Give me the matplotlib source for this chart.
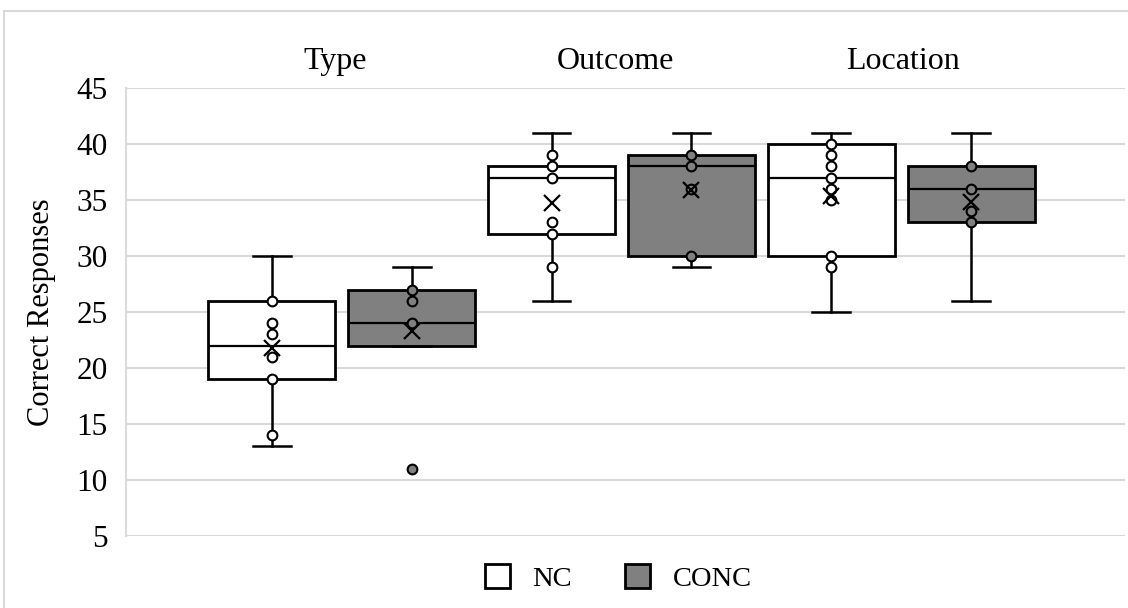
import matplotlib
matplotlib.use("Agg")
from matplotlib import pyplot as plt
from matplotlib.patches import Patch, Rectangle

plt.rcParams['font.family'] = ['Liberation Serif', 'DejaVu Serif']

# dati
gruppi = ['Type', 'Outcome', 'Location']
serie = ['NC', 'CONC']

# ordine: Type NC, Type CONC, Outcome NC, Outcome CONC, Location NC, Location CONC
mediane = [22, 24, 37, 38, 37, 36]
q1 = [19, 22, 32, 30, 30, 33]
q3 = [26, 27, 38, 39, 40, 38]
baffo_min = [13, 22, 26, 29, 25, 26]
baffo_max = [30, 29, 41, 41, 41, 41]
medie = [21.8, 23.3, 34.7, 35.9, 35.4, 34.8]
outlier = [[], [11], [], [], [], []]
punti = [
    [26, 24, 23, 21, 19, 14],
    [27, 26, 24],
    [39, 38, 37, 33, 32, 29],
    [39, 38, 36, 30],
    [40, 39, 38, 37, 36, 35, 30, 29],
    [38, 36, 34, 33],
]

colori = {'NC': 'white', 'CONC': '#808080'}

fig = plt.figure(figsize=(11.28, 6.08), dpi=100)
ax = fig.add_axes([126 / 1128, 1 - 536 / 608, (1125 - 126) / 1128, (536 - 88) / 608])

# cornice esterna
fig.patches.append(Rectangle((4 / 1128, -0.1), 1.2, 1.1 - 11 / 608, transform=fig.transFigure,
                             fill=False, edgecolor='#d9d9d9', linewidth=1.5))

stats = []
for i in range(len(mediane)):
    stats.append({'med': mediane[i], 'q1': q1[i], 'q3': q3[i], 'whislo': baffo_min[i],
                  'whishi': baffo_max[i], 'mean': medie[i], 'fliers': outlier[i]})

for i, st in enumerate(stats):
    s = serie[i % 2]
    ax.bxp([st], positions=[i], widths=0.907, patch_artist=True, showmeans=True,
           boxprops=dict(facecolor=colori[s], edgecolor='black', linewidth=2),
           medianprops=dict(color='black', linewidth=1.6),
           whiskerprops=dict(color='black', linewidth=1.8),
           capprops=dict(color='black', linewidth=1.8),
           capwidths=0.27,
           flierprops=dict(marker='o', markerfacecolor=colori[s], markeredgecolor='black',
                           markersize=7, markeredgewidth=1.5),
           meanprops=dict(marker='x', markeredgecolor='black', markersize=12,
                          markeredgewidth=1.6, zorder=6))
    ax.plot([i] * len(punti[i]), punti[i], linestyle='none', marker='o', markersize=7,
            markerfacecolor=colori[s], markeredgecolor='black', markeredgewidth=1.5, zorder=5)

# titoli dei gruppi
pos_titoli = [0.45, 2.46, 4.51]
for g, x in zip(gruppi, pos_titoli):
    ax.text(x, 47.4, g, ha='center', va='center', fontsize=23, clip_on=False)

ax.set_xlim(-1.043, 6.1)
ax.set_ylim(5, 45)
ax.set_yticks(range(5, 46, 5))
ax.set_xticks([])
ax.tick_params(axis='y', labelsize=22.5, length=0, pad=13)
ax.grid(axis='y', color='#d9d9d9', linewidth=1.5)
ax.set_axisbelow(True)
for sp in ['top', 'right', 'bottom']:
    ax.spines[sp].set_visible(False)
ax.spines['left'].set_color('#d9d9d9')
ax.spines['left'].set_linewidth(1.5)
ax.set_ylabel('Correct Responses', fontsize=22, labelpad=15)

handles = [Patch(facecolor=colori[s], edgecolor='black', linewidth=2, label=s) for s in serie]
fig.legend(handles=handles, loc='center', bbox_to_anchor=(0.548, 0.049), ncol=2, frameon=False,
           fontsize=20.5, handlelength=0.88, handleheight=0.88, columnspacing=1.9,
           handletextpad=0.77)

fig.savefig('out.png', dpi=100)
